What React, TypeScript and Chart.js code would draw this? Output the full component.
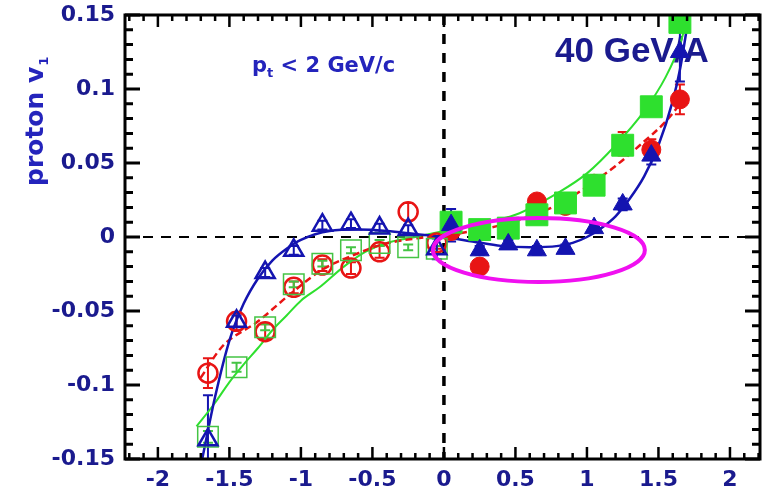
import { useEffect, useRef } from "react";
import { Chart, registerables } from "chart.js";

Chart.register(...registerables);

// Axis ticks
const X_TICKS = [-2, -1.5, -1, -0.5, 0, 0.5, 1, 1.5, 2];
const X_TICK_LABELS = ["-2", "-1.5", "-1", "-0.5", "0", "0.5", "1", "1.5", "2"];
const Y_TICKS = [-0.15, -0.1, -0.05, 0, 0.05, 0.1, 0.15];
const Y_TICK_LABELS = ["-0.15", "-0.1", "-0.05", "0", "0.05", "0.1", "0.15"];

// Rapidity bins (backward = open symbols, forward = filled symbols)
const Y_BACKWARD = [-1.65, -1.45, -1.25, -1.05, -0.85, -0.65, -0.45, -0.25, -0.05];
const Y_FORWARD = [0.05, 0.25, 0.45, 0.65, 0.85, 1.05, 1.25, 1.45, 1.65];

// Red circles
const RED_BACKWARD = [-0.092, -0.057, -0.064, -0.034, -0.019, -0.021, -0.01, 0.017, -0.004];
const RED_BACKWARD_ERR = [0.01, 0.006, 0.005, 0.004, 0.004, 0.004, 0.004, 0.006, 0.004];
const RED_FORWARD = [0.004, -0.02, 0.007, 0.024, 0.021, 0.036, 0.063, 0.059, 0.093];
const RED_FORWARD_ERR = [0.004, 0.004, 0.004, 0.004, 0.004, 0.005, 0.008, 0.007, 0.01];

// Green squares
const GREEN_BACKWARD = [-0.135, -0.088, -0.061, -0.032, -0.018, -0.009, -0.004, -0.007, -0.008];
const GREEN_BACKWARD_ERR = [0.004, 0.003, 0.002, 0.002, 0.002, 0.002, 0.002, 0.002, 0.002];
const GREEN_FORWARD = [0.01, 0.005, 0.006, 0.015, 0.023, 0.035, 0.062, 0.088, 0.145];
const GREEN_FORWARD_ERR = [0.002, 0.002, 0.002, 0.002, 0.002, 0.002, 0.003, 0.003, 0.004];

// Blue triangles
const BLUE_BACKWARD = [-0.137, -0.057, -0.024, -0.009, 0.008, 0.009, 0.006, 0.005, -0.008];
const BLUE_BACKWARD_ERR = [0.03, 0.004, 0.003, 0.003, 0.003, 0.003, 0.003, 0.003, 0.007];
const BLUE_FORWARD = [0.008, -0.009, -0.005, -0.009, -0.008, 0.006, 0.022, 0.055, 0.125];
const BLUE_FORWARD_ERR = [0.011, 0.003, 0.003, 0.003, 0.003, 0.003, 0.004, 0.006, 0.02];

// Fitted curves
const BLUE_FIT_Y = [-1.69, -1.6, -1.5, -1.4, -1.3, -1.2, -1.1, -1.0, -0.8, -0.6, -0.4, -0.2, 0, 0.2, 0.4, 0.6, 0.8, 0.9, 1.0, 1.1, 1.2, 1.3, 1.4, 1.5, 1.6, 1.65, 1.7, 1.72];
const BLUE_FIT_V1 = [-0.15, -0.108, -0.07, -0.045, -0.028, -0.016, -0.008, -0.002, 0.004, 0.005, 0.004, 0.002, 0.0, -0.003, -0.006, -0.007, -0.006, -0.004, 0.0, 0.006, 0.014, 0.026, 0.041, 0.062, 0.092, 0.113, 0.142, 0.155];
const GREEN_FIT_Y = [-1.73, -1.6, -1.5, -1.4, -1.3, -1.2, -1.1, -1.0, -0.87, -0.7, -0.55, -0.4, -0.2, 0, 0.2, 0.5, 0.8, 1.0, 1.2, 1.4, 1.55, 1.65, 1.72];
const GREEN_FIT_V1 = [-0.128, -0.112, -0.098, -0.086, -0.075, -0.063, -0.053, -0.043, -0.034, -0.02, -0.01, -0.004, 0.0, 0.004, 0.008, 0.015, 0.03, 0.043, 0.062, 0.085, 0.108, 0.13, 0.155];
const RED_FIT_Y = [-1.7, -1.55, -1.3, -1.08, -0.85, -0.6, -0.43, -0.2, 0, 0.2, 0.4, 0.6, 0.8, 1.0, 1.2, 1.37, 1.55, 1.7];
const RED_FIT_V1 = [-0.095, -0.074, -0.057, -0.039, -0.022, -0.011, -0.005, -0.001, 0.001, 0.004, 0.008, 0.014, 0.022, 0.034, 0.048, 0.062, 0.078, 0.096];

// Highlight ellipse (center and half-axes in data units)
const HIGHLIGHT = { cx: 0.664, cy: -0.0088, rx: 0.741, ry: 0.0216 };

const RED = "#e81414";
const GREEN = "#2ee02e";
const GREEN_OPEN = "#44c444";
const BLUE = "#1414b0";
const NAVY = "#1a1a8e";
const LABEL_BLUE = "#2424bc";

const pts = (xs: number[], ys: number[]) => xs.map((x, i) => ({ x, y: ys[i] }));

const ERROR_GROUPS = [
  { xs: Y_BACKWARD, ys: RED_BACKWARD, errs: RED_BACKWARD_ERR, color: RED },
  { xs: Y_FORWARD, ys: RED_FORWARD, errs: RED_FORWARD_ERR, color: RED },
  { xs: Y_BACKWARD, ys: GREEN_BACKWARD, errs: GREEN_BACKWARD_ERR, color: GREEN_OPEN },
  { xs: Y_FORWARD, ys: GREEN_FORWARD, errs: GREEN_FORWARD_ERR, color: GREEN },
  { xs: Y_BACKWARD, ys: BLUE_BACKWARD, errs: BLUE_BACKWARD_ERR, color: BLUE },
  { xs: Y_FORWARD, ys: BLUE_FORWARD, errs: BLUE_FORWARD_ERR, color: BLUE },
];

const overlay = {
  id: "overlay",
  beforeDatasetsDraw(chart: any) {
    const { ctx, chartArea: a, scales } = chart;
    const sx = scales.x;
    const sy = scales.y;
    ctx.save();
    // zero reference lines
    ctx.strokeStyle = "#000";
    ctx.lineWidth = 2;
    ctx.setLineDash([10, 8]);
    const y0 = sy.getPixelForValue(0);
    ctx.beginPath();
    ctx.moveTo(a.left, y0);
    ctx.lineTo(a.right, y0);
    ctx.stroke();
    ctx.lineWidth = 3.5;
    ctx.setLineDash([10, 9]);
    const x0 = sx.getPixelForValue(0);
    ctx.beginPath();
    ctx.moveTo(x0, a.top);
    ctx.lineTo(x0, a.bottom);
    ctx.stroke();
    ctx.setLineDash([]);

    // annotation texts
    ctx.textBaseline = "alphabetic";
    ctx.textAlign = "left";
    ctx.fillStyle = LABEL_BLUE;
    ctx.font = 'bold 21px "DejaVu Sans"';
    let tx = 252;
    ctx.fillText("p", tx, 72);
    tx += ctx.measureText("p").width;
    ctx.font = 'bold 13px "DejaVu Sans"';
    ctx.fillText("t", tx, 77);
    tx += ctx.measureText("t").width;
    ctx.font = 'bold 21px "DejaVu Sans"';
    ctx.fillText(" < 2 GeV/c", tx, 72);

    ctx.fillStyle = NAVY;
    ctx.font = 'bold 35px "Liberation Sans"';
    ctx.fillText("40 GeV/A", 555, 62);

    // error bars, kept inside the plot frame
    ctx.beginPath();
    ctx.rect(a.left, a.top, a.right - a.left, a.bottom - a.top);
    ctx.clip();
    ctx.lineWidth = 2;
    for (const g of ERROR_GROUPS) {
      ctx.strokeStyle = g.color;
      g.xs.forEach((xv: number, i: number) => {
        const px = sx.getPixelForValue(xv);
        const top = sy.getPixelForValue(g.ys[i] + g.errs[i]);
        const bot = sy.getPixelForValue(g.ys[i] - g.errs[i]);
        ctx.beginPath();
        ctx.moveTo(px, top);
        ctx.lineTo(px, bot);
        ctx.moveTo(px - 5, top);
        ctx.lineTo(px + 5, top);
        ctx.moveTo(px - 5, bot);
        ctx.lineTo(px + 5, bot);
        ctx.stroke();
      });
    }
    ctx.restore();
  },
  afterDatasetsDraw(chart: any) {
    const { ctx, chartArea: a, scales } = chart;
    const sx = scales.x;
    const sy = scales.y;
    ctx.save();
    ctx.strokeStyle = "#000";
    // inward ticks on all four sides
    ctx.lineWidth = 3;
    for (let i = -15; i <= 15; i++) {
      const py = sy.getPixelForValue(i / 100);
      const len = i % 5 === 0 ? 15 : 8;
      ctx.beginPath();
      ctx.moveTo(a.left, py);
      ctx.lineTo(a.left + len, py);
      ctx.moveTo(a.right, py);
      ctx.lineTo(a.right - len, py);
      ctx.stroke();
    }
    ctx.lineWidth = 2.5;
    for (let i = -22; i <= 22; i++) {
      const v = i / 10;
      if (v < sx.min || v > sx.max) continue;
      const px = sx.getPixelForValue(v);
      const len = i % 5 === 0 ? 12 : 6;
      ctx.beginPath();
      ctx.moveTo(px, a.bottom);
      ctx.lineTo(px, a.bottom - len);
      ctx.moveTo(px, a.top);
      ctx.lineTo(px, a.top + len);
      ctx.stroke();
    }
    // frame
    ctx.lineWidth = 3;
    ctx.strokeRect(a.left, a.top, a.right - a.left, a.bottom - a.top);

    // highlight ellipse
    const cx = sx.getPixelForValue(HIGHLIGHT.cx);
    const cy = sy.getPixelForValue(HIGHLIGHT.cy);
    const rx = Math.abs(sx.getPixelForValue(HIGHLIGHT.cx + HIGHLIGHT.rx) - cx);
    const ry = Math.abs(sy.getPixelForValue(HIGHLIGHT.cy + HIGHLIGHT.ry) - cy);
    ctx.strokeStyle = "#f010f0";
    ctx.lineWidth = 4;
    ctx.beginPath();
    ctx.ellipse(cx, cy, rx, ry, 0, 0, Math.PI * 2);
    ctx.stroke();
    ctx.restore();
  },
  afterDraw(chart: any) {
    const { ctx } = chart;
    ctx.save();
    ctx.translate(43, 186);
    ctx.rotate(-Math.PI / 2);
    ctx.fillStyle = LABEL_BLUE;
    ctx.textBaseline = "alphabetic";
    ctx.textAlign = "left";
    ctx.font = 'bold 25px "DejaVu Sans"';
    ctx.fillText("proton v", 0, 0);
    const w = ctx.measureText("proton v").width;
    ctx.font = 'bold 13px "DejaVu Sans"';
    ctx.fillText("1", w + 1, 5);
    ctx.restore();
  },
};

export default function App() {
  const canvasRef = useRef<HTMLCanvasElement | null>(null);

  useEffect(() => {
    const canvas = canvasRef.current;
    if (!canvas) return;

    const curve = (xs: number[], ys: number[], color: string, width: number, dash: number[] = []) => ({
      type: "line" as const,
      data: pts(xs, ys),
      borderColor: color,
      borderWidth: width,
      borderDash: dash,
      pointRadius: 0,
      showLine: true,
      fill: false,
      cubicInterpolationMode: "monotone" as const,
    });

    const marker = (
      xs: number[],
      ys: number[],
      style: string,
      radius: number,
      color: string,
      filled: boolean,
      width: number
    ) => ({
      type: "scatter" as const,
      data: pts(xs, ys),
      pointStyle: style,
      pointRadius: radius,
      pointBorderColor: color,
      pointBackgroundColor: filled ? color : "rgba(0,0,0,0)",
      pointBorderWidth: width,
      showLine: false,
    });

    const chart = new Chart(canvas, {
      type: "scatter",
      data: {
        datasets: [
          marker(Y_FORWARD, BLUE_FORWARD, "triangle", 11, BLUE, true, 1),
          marker(Y_BACKWARD, BLUE_BACKWARD, "triangle", 11, BLUE, false, 2.5),
          marker(Y_FORWARD, GREEN_FORWARD, "rect", 15.5, GREEN, true, 1),
          marker(Y_BACKWARD, GREEN_BACKWARD, "rect", 14.5, GREEN_OPEN, false, 1.5),
          marker(Y_FORWARD, RED_FORWARD, "circle", 9.5, RED, true, 1),
          marker(Y_BACKWARD, RED_BACKWARD, "circle", 9.5, RED, false, 2.5),
          curve(BLUE_FIT_Y, BLUE_FIT_V1, BLUE, 2.5),
          curve(RED_FIT_Y, RED_FIT_V1, RED, 2.5, [7, 4]),
          curve(GREEN_FIT_Y, GREEN_FIT_V1, GREEN, 2),
        ] as any,
      },
      options: {
        responsive: false,
        animation: false,
        layout: { autoPadding: false, padding: { top: 15, right: 4, left: 0, bottom: 0 } },
        plugins: { legend: { display: false }, tooltip: { enabled: false } },
        scales: {
          x: {
            type: "linear",
            min: -2.23,
            max: 2.21,
            grid: { display: false, drawTicks: false },
            border: { display: false },
            afterBuildTicks: (s: any) => {
              s.ticks = X_TICKS.map((v) => ({ value: v }));
            },
            afterFit: (s: any) => {
              s.height = 37;
              s.paddingLeft = 0;
              s.paddingRight = 0;
            },
            ticks: {
              autoSkip: false,
              maxRotation: 0,
              padding: 8,
              color: NAVY,
              font: { family: "DejaVu Sans", size: 22, weight: "bold" },
              callback: (_v: any, i: number) => X_TICK_LABELS[i],
            },
          },
          y: {
            type: "linear",
            min: -0.15,
            max: 0.15,
            grid: { display: false, drawTicks: false },
            border: { display: false },
            afterBuildTicks: (s: any) => {
              s.ticks = Y_TICKS.map((v) => ({ value: v }));
            },
            afterFit: (s: any) => {
              s.width = 125;
              s.paddingTop = 0;
              s.paddingBottom = 0;
            },
            ticks: {
              autoSkip: false,
              padding: 10,
              color: NAVY,
              font: { family: "DejaVu Sans", size: 22, weight: "bold" },
              callback: (_v: any, i: number) => Y_TICK_LABELS[i],
            },
          },
        },
      } as any,
      plugins: [overlay],
    });

    return () => chart.destroy();
  }, []);

  return (
    <div style={{ position: "absolute", left: 0, top: 0, width: 764, height: 496, background: "#fff" }}>
      <canvas ref={canvasRef} width={764} height={496} style={{ display: "block" }} />
    </div>
  );
}
